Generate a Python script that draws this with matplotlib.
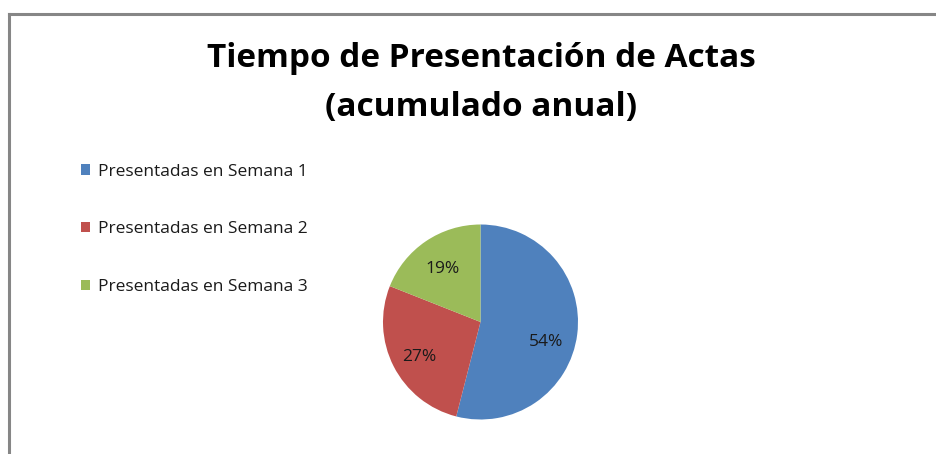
import matplotlib.pyplot as plt
from matplotlib.lines import Line2D
from matplotlib.patches import Patch
import numpy as np

labels = ["Presentadas en Semana 1", "Presentadas en Semana 2", "Presentadas en Semana 3"]
values = [54, 27, 19]
colors = ["#4F81BD", "#C0504D", "#9BBB59"]

W, H = 937, 454
fig = plt.figure(figsize=(W / 100, H / 100), dpi=100)
plt.rcParams['font.family'] = ['Open Sans', 'DejaVu Sans']

# outer frame (only left and top visible in the crop)
fig.add_artist(Line2D([9 / W, 9 / W], [0, 1 - 13.5 / H], color="#868686", lw=2.2))
fig.add_artist(Line2D([9 / W, 1], [1 - 13.5 / H, 1 - 13.5 / H], color="#868686", lw=2.2))

fig.text(481 / W, 1 - 83 / H, "Tiempo de Presentación de Actas\n(acumulado anual)",
         ha="center", va="center", fontsize=24, fontweight="bold", linespacing=1.62)

cx, cy, r = 480.5, 322, 97.5
ax = fig.add_axes([(cx - r) / W, (H - cy - r) / H, 2 * r / W, 2 * r / H])
wedges, texts, autotexts = ax.pie(values, colors=colors, startangle=90, counterclock=False,
                                  autopct="%d%%", pctdistance=0.7,
                                  wedgeprops=dict(linewidth=0),
                                  textprops=dict(fontsize=12.5, color="#1a1a1a"))
# Excel's best-fit puts the big label a bit lower
ang = np.deg2rad(-17)
autotexts[0].set_position((0.7 * np.cos(ang), 0.7 * np.sin(ang)))
for t in autotexts[1:]:
    x, y = t.get_position()
    t.set_position((x, y - 0.04))
ax.set_xlim(-1, 1)
ax.set_ylim(-1, 1)

handles = [Patch(facecolor=c, edgecolor="none") for c in colors]
fig.legend(handles, labels, loc="upper left", bbox_to_anchor=(65 / W, 1 - 148 / H),
           frameon=False, fontsize=12.5, labelspacing=2.4, handlelength=0.55, handleheight=0.55,
           handletextpad=0.45, labelcolor="#1a1a1a")

fig.savefig("out.png", dpi=100)
